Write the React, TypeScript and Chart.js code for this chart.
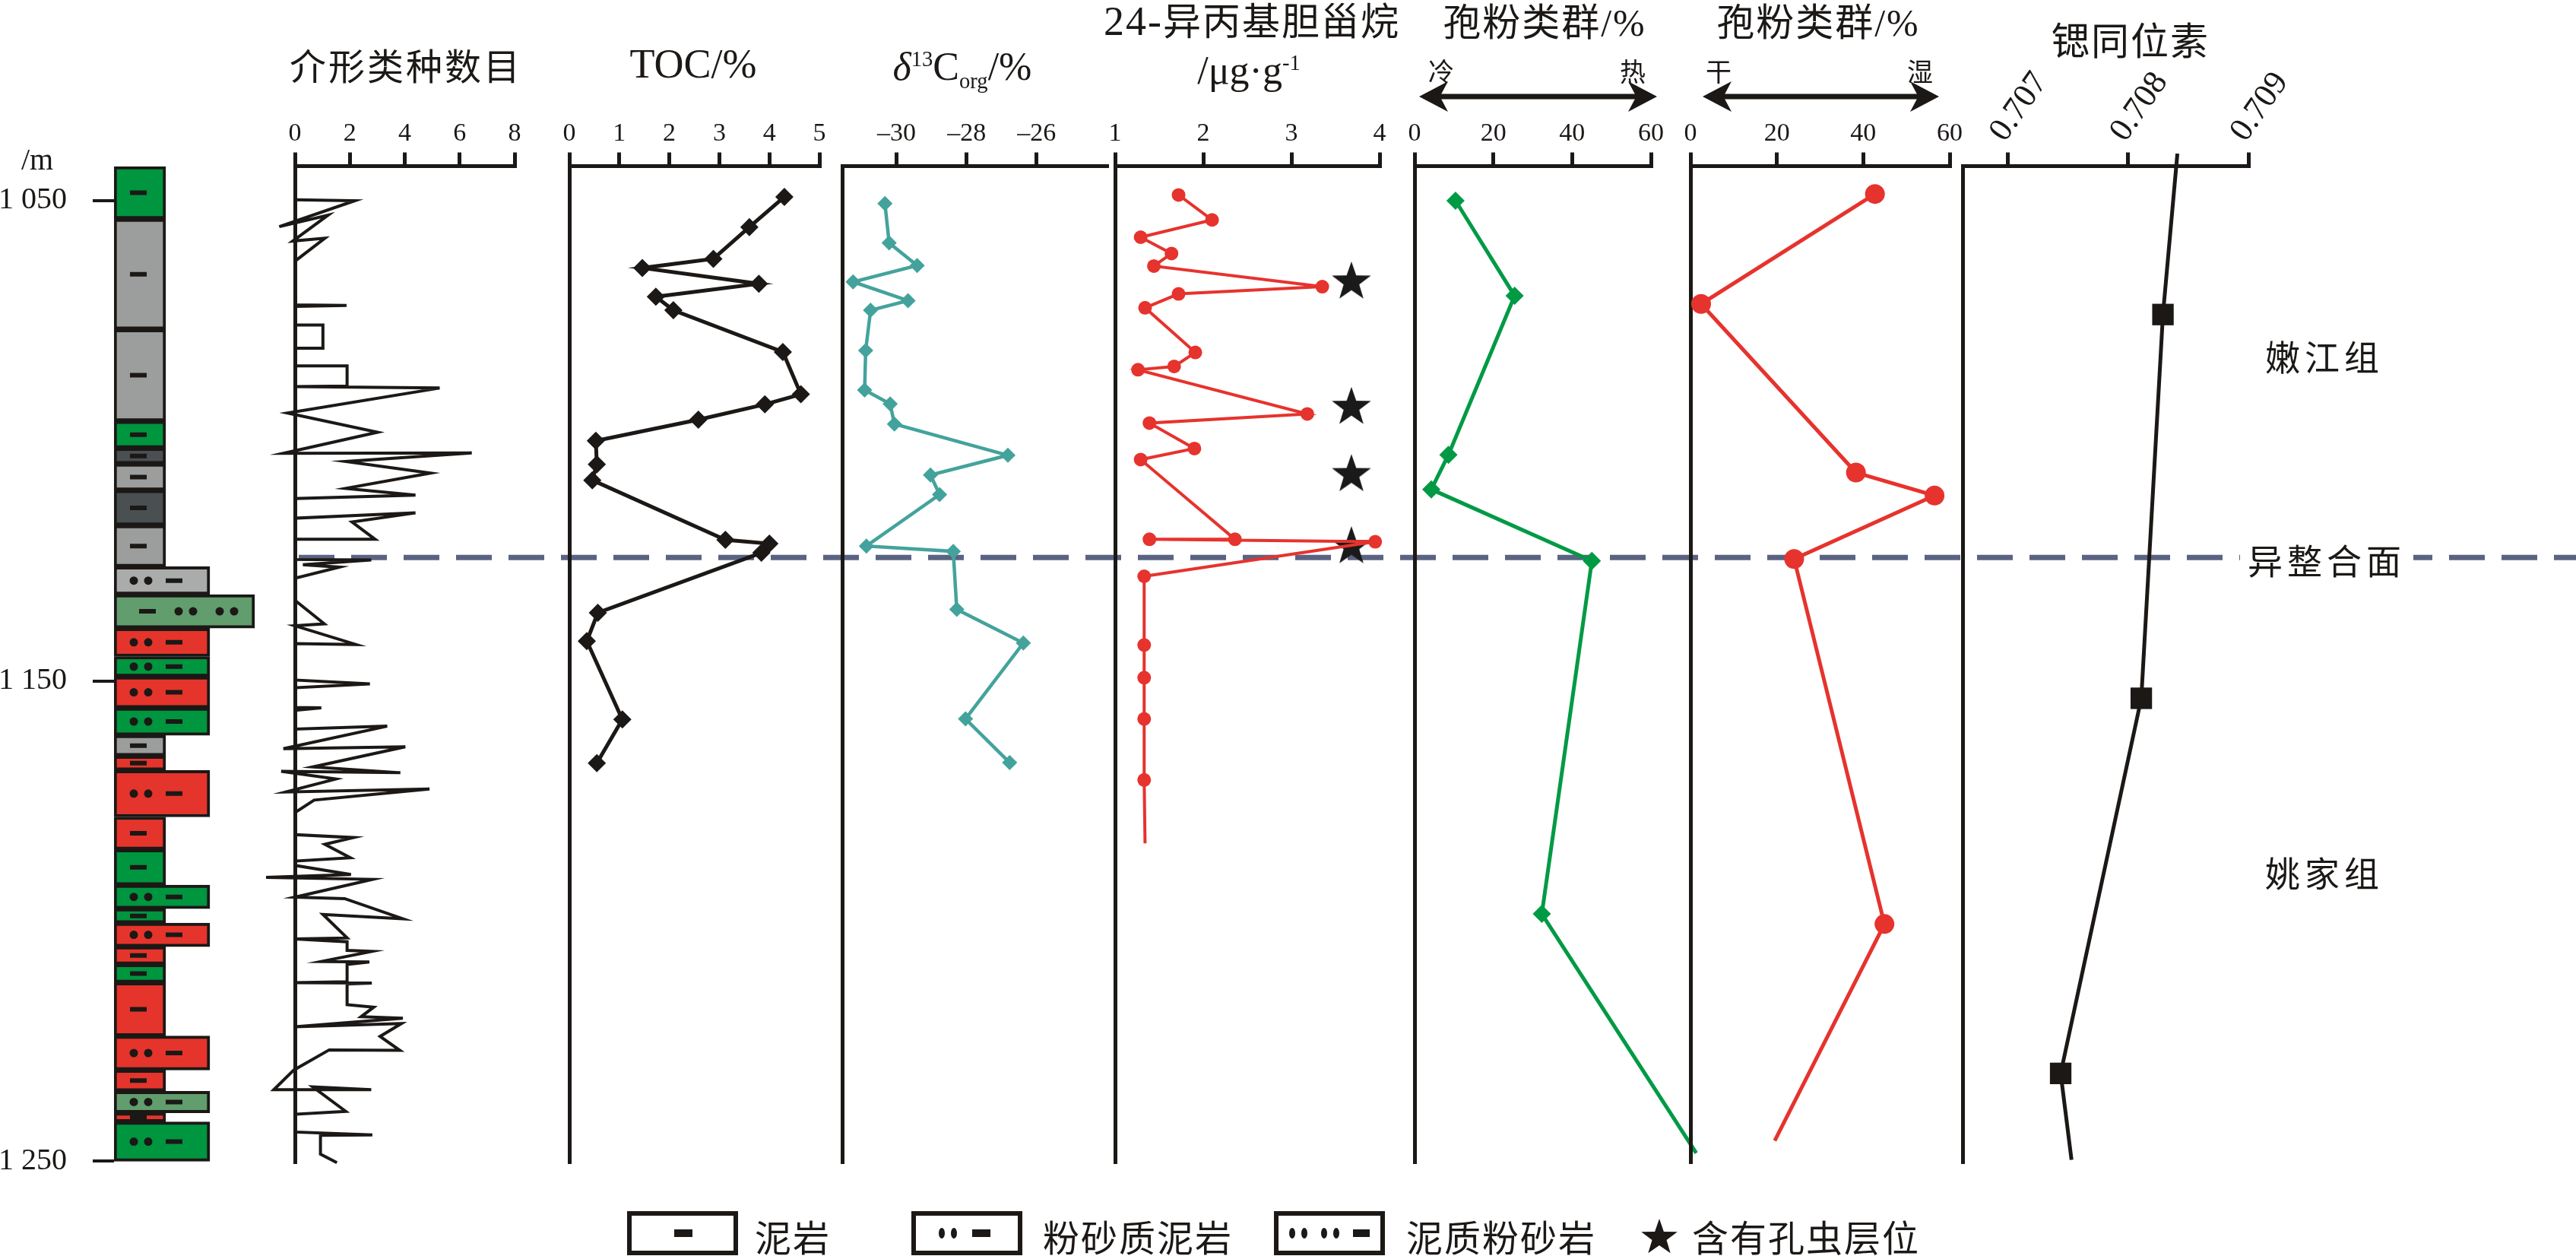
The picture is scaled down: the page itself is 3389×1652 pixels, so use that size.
import React, { useEffect, useRef } from 'react';
import { Chart, registerables } from 'chart.js';

Chart.register(...registerables);

// ================= DATA =================
const depthTicks = [1050, 1150, 1250];
const unconformityDepth = 1124.3;

// lithology column (m)
const lithTop = [1042.9, 1053.8, 1076.8, 1095.9, 1101.5, 1104.8, 1110.3, 1117.6, 1126.2, 1132.0, 1139.0, 1144.9, 1149.1, 1155.6, 1161.3, 1165.6, 1168.6, 1178.3, 1185.1, 1192.5, 1197.4, 1200.4, 1205.3, 1209.0, 1212.8, 1223.9, 1231.0, 1235.4, 1239.9, 1241.8];
const lithBottom = [1053.8, 1076.8, 1095.9, 1101.5, 1104.8, 1110.3, 1117.6, 1126.2, 1132.0, 1139.0, 1144.9, 1149.1, 1155.6, 1161.3, 1165.6, 1168.6, 1178.3, 1185.1, 1192.5, 1197.4, 1200.4, 1205.3, 1209.0, 1212.8, 1223.9, 1231.0, 1235.4, 1239.9, 1241.8, 1250.0];
// M = 泥岩, S = 粉砂质泥岩, T = 泥质粉砂岩
const lithRock = ['M', 'M', 'M', 'M', 'M', 'M', 'M', 'M', 'S', 'T', 'S', 'S', 'S', 'S', 'M', 'M', 'S', 'M', 'M', 'S', 'M', 'S', 'M', 'M', 'M', 'S', 'M', 'S', 'M', 'S'];
const lithFacies = ['green', 'gray', 'gray', 'green', 'dark', 'gray', 'dark', 'gray', 'light', 'sage', 'red', 'green', 'red', 'green', 'gray', 'red', 'red', 'red', 'green', 'green', 'green', 'red', 'red', 'green', 'red', 'red', 'red', 'sage', 'red', 'green'];

// 介形类种数目
const ostracodTicks = [0, 2, 4, 6, 8];
const ostracodCount = [0, 2.18, -0.57, 1.21, -0.08, 1.09, 0, 0, 1.88, 0, 0, 1.02, 1.02, 0, 0, 1.9, 1.9, 0, 5.27, -0.27, 3.01, -0.42, 6.44, 1.85, 4.94, 1.85, 4.39, 0, 0, 4.39, 2.08, 2.92, 0, 0, 2.78, 0.29, 1.62, 0, 0, 1.07, 0, 2.22, 0, 0, 2.73, 0, 0, 0.96, 0, 0, 3.36, -0.42, 4.02, 0.65, 3.84, -0.5, 1.49, -0.33, 4.9, 0.7, 0, 0, 2.13, 1.09, 2.02, 0, 0, 2.04, -1.05, 2.82, 0, 1.81, 3.93, 1.02, 1.9, 0, 1.9, 1.9, 2.8, 0.96, 2.71, 1.9, 1.9, 0, 2.8, 1.9, 1.9, 2.87, 2.41, 3.93, 0, 3.88, 3.1, 3.82, 1.25, -0.04, -0.77, 2.78, 0.65, 1.85, 0, 0, 2.82, 0.93, 0.93, 1.53];
const ostracodDepth = [1049.8, 1050.0, 1055.4, 1053.0, 1058.4, 1057.8, 1062.6, 1071.7, 1071.8, 1072.0, 1075.9, 1075.9, 1080.7, 1080.7, 1084.4, 1084.4, 1088.6, 1088.7, 1089.0, 1094.2, 1098.2, 1102.6, 1102.5, 1104.3, 1106.7, 1109.9, 1111.3, 1112.0, 1116.1, 1115.0, 1116.9, 1120.5, 1120.5, 1124.7, 1124.8, 1125.8, 1126.3, 1128.6, 1133.2, 1138.1, 1138.5, 1142.4, 1142.2, 1149.8, 1150.6, 1151.4, 1155.5, 1155.6, 1156.1, 1160.0, 1159.4, 1164.1, 1163.7, 1167.9, 1169.1, 1168.8, 1170.4, 1173.1, 1172.5, 1174.8, 1177.4, 1182.0, 1182.6, 1184.0, 1186.8, 1187.5, 1188.4, 1190.3, 1190.9, 1191.3, 1195.0, 1195.3, 1199.5, 1198.6, 1203.5, 1203.7, 1204.3, 1206.1, 1206.3, 1208.4, 1208.5, 1209.0, 1212.6, 1212.8, 1212.9, 1213.1, 1217.4, 1217.9, 1219.9, 1220.2, 1222.0, 1221.3, 1224.0, 1226.9, 1226.8, 1231.0, 1235.1, 1235.1, 1234.5, 1239.6, 1240.2, 1243.9, 1244.5, 1244.6, 1248.5, 1250.3];

// TOC/%
const tocTicks = [0, 1, 2, 3, 4, 5];
const tocValue = [4.3, 3.6, 2.88, 1.46, 3.79, 1.73, 2.08, 4.27, 4.63, 3.91, 2.58, 0.53, 0.55, 0.46, 3.12, 4.0, 3.84, 0.57, 0.35, 1.06, 0.55];
const tocDepth = [1049.2, 1055.5, 1062.1, 1064.0, 1067.3, 1070.0, 1072.8, 1081.5, 1090.3, 1092.4, 1095.6, 1100.0, 1104.9, 1108.2, 1120.6, 1121.4, 1123.3, 1135.8, 1141.7, 1158.0, 1167.1];

// δ13Corg/‰
const d13cTicks = [-30, -28, -26];
const d13cValue = [-30.33, -30.21, -29.41, -31.24, -29.67, -30.74, -30.88, -30.91, -30.18, -30.06, -26.82, -29.03, -28.77, -30.86, -28.38, -28.28, -26.38, -28.03, -26.77];
const d13cDepth = [1050.6, 1058.8, 1063.5, 1066.9, 1070.8, 1072.8, 1081.2, 1089.4, 1092.3, 1096.5, 1103.0, 1107.1, 1111.2, 1121.9, 1123.0, 1135.1, 1142.1, 1157.9, 1167.0];

// 24-异丙基胆甾烷 /μg·g-1
const isoTicks = [1, 2, 3, 4];
const isoValue = [1.72, 2.1, 1.29, 1.64, 1.44, 3.35, 1.72, 1.34, 1.91, 1.67, 1.26, 3.18, 1.39, 1.9, 1.29, 2.36, 1.39, 3.95, 1.33, 1.33, 1.33, 1.33, 1.33, 1.34];
const isoDepth = [1048.8, 1054.0, 1057.6, 1061.0, 1063.6, 1067.9, 1069.4, 1072.3, 1081.6, 1084.5, 1085.2, 1094.4, 1096.3, 1101.6, 1103.9, 1120.5, 1120.5, 1121.0, 1128.2, 1142.5, 1149.3, 1157.9, 1170.6, 1183.8];
// 含有孔虫层位
const foramDepth = [1066.5, 1092.6, 1106.6, 1121.6];

// 孢粉类群 冷—热 /%
const pollenTicks = [0, 20, 40, 60];
const warmValue = [10.4, 25.4, 8.6, 4.25, 45.0, 32.3, 71.5];
const warmDepth = [1050.0, 1069.8, 1102.9, 1110.1, 1125.0, 1198.5, 1248.3];
// 孢粉类群 干—湿 /%
const humidValue = [42.7, 2.46, 38.3, 56.5, 24.0, 44.9, 19.5];
const humidDepth = [1048.6, 1071.5, 1106.6, 1111.4, 1124.6, 1200.6, 1245.7];

// 锶同位素
const srTicks = [0.707, 0.708, 0.709];
const srValue = [0.70841, 0.70829, 0.70811, 0.70744, 0.70753];
const srDepth = [1040.2, 1073.7, 1153.6, 1231.7, 1249.7];

// ================= STYLE / LAYOUT =================
const PAGE_W = 3389;
const PAGE_H = 1652;
const PLOT_TOP = 218.5;
const PLOT_BOTTOM = 1530.6;
const DEPTH_MIN = 1042.8;
const DEPTH_MAX = 1250.5;
const INK = '#1b1816';
const SERIF = '"Liberation Serif", "DejaVu Serif", serif';
const CJK = '"Noto Sans CJK SC", "Noto Sans", sans-serif';
const RED = '#e6332d';
const GREEN = '#009a45';
const TEAL = '#43a39c';
const DASH_COLOR = '#5b6383';
const PAD_L = 60;
const PAD_R = 90;

const FACIES_COLOR: Record<string, string> = {
  green: '#00953f', gray: '#9c9e9d', dark: '#4a4f52', light: '#aaacab', sage: '#619d6d', red: '#e5342b',
};
const ROCK_WIDTH: Record<string, number> = { M: 68, S: 126, T: 185 };
const ROCK_DASH: Record<string, number[]> = { M: [32], S: [79], T: [44] };
const ROCK_DOTS: Record<string, number[]> = { M: [], S: [26, 45], T: [85, 104, 139, 158] };
const LITH_AXIS_W = 150;
const LITH_AREA_W = 200;

const pts = (xs: number[], ys: number[]) => xs.map((x, i) => ({ x, y: ys[i] }));

function makeStar(size: number, color: string) {
  const c = document.createElement('canvas');
  c.width = size; c.height = size;
  const g = c.getContext('2d') as CanvasRenderingContext2D;
  g.fillStyle = color;
  g.beginPath();
  for (let i = 0; i < 10; i++) {
    const r = i % 2 === 0 ? size / 2 : (size / 2) * 0.4;
    const a = -Math.PI / 2 + (i * Math.PI) / 5;
    const px = size / 2 + r * Math.cos(a);
    const py = size / 2 + r * Math.sin(a) + size * 0.05;
    if (i === 0) g.moveTo(px, py); else g.lineTo(px, py);
  }
  g.closePath();
  g.fill();
  return c;
}

const baseOptions = (padding: any) => ({
  responsive: false,
  animation: false as const,
  devicePixelRatio: 1,
  events: [] as any[],
  layout: { padding },
  plugins: { legend: { display: false }, tooltip: { enabled: false }, title: { display: false } },
});

type PanelSpec = {
  key: string; left: number; right: number; min: number; max: number; ticks: number[];
  fmt?: (v: number) => string; rotation?: number; tickSize?: number; labelOffset?: number; datasets: () => any[];
};

function panelConfig(p: PanelSpec) {
  return {
    type: 'scatter',
    data: { datasets: p.datasets() },
    options: {
      ...baseOptions({ left: PAD_L, right: PAD_R, top: 0, bottom: PAGE_H - PLOT_BOTTOM }),
      scales: {
        x: {
          type: 'linear', position: 'top', min: p.min, max: p.max, offset: false,
          afterBuildTicks: (ax: any) => { ax.ticks = p.ticks.map((v) => ({ value: v })); },
          afterFit: (ax: any) => { ax.height = PLOT_TOP; ax.paddingLeft = 0; ax.paddingRight = 0; },
          ticks: {
            autoSkip: false, minRotation: p.rotation ?? 0, maxRotation: p.rotation ?? 0, padding: 4, color: INK,
            labelOffset: p.labelOffset ?? 0,
            font: { family: SERIF, size: p.tickSize ?? 34 },
            callback: (v: any) => (p.fmt ? p.fmt(Number(v)) : String(v)),
          },
          grid: { display: true, drawOnChartArea: false, drawTicks: true, tickLength: 18, lineWidth: 5, color: INK },
          border: { display: true, width: 5, color: INK },
        },
        y: {
          type: 'linear', position: 'left', reverse: true, min: DEPTH_MIN, max: DEPTH_MAX,
          afterFit: (ax: any) => { ax.width = 0; },
          ticks: { display: false },
          grid: { display: false },
          border: { display: true, width: 5, color: INK },
        },
      },
    },
  };
}

const lineDs = (xs: number[], ys: number[], color: string, width: number, extra: any = {}) => ({
  data: pts(xs, ys), showLine: true, borderColor: color, borderWidth: width, tension: 0,
  pointBackgroundColor: color, pointBorderColor: color, pointBorderWidth: 0, clip: false, ...extra,
});

const PANELS: PanelSpec[] = [
  {
    key: 'ost', left: 388, right: 677, min: 0, max: 8, ticks: ostracodTicks,
    datasets: () => [lineDs(ostracodCount, ostracodDepth, INK, 4, { pointRadius: 0, borderJoinStyle: 'miter' })],
  },
  {
    key: 'toc', left: 749, right: 1078, min: 0, max: 5, ticks: tocTicks,
    datasets: () => [lineDs(tocValue, tocDepth, INK, 5, { pointStyle: 'rectRot', pointRadius: 12 })],
  },
  {
    key: 'd13c', left: 1108, right: 1456, min: -31.55, max: -24, ticks: d13cTicks,
    fmt: (v) => '–' + Math.abs(v),
    datasets: () => [lineDs(d13cValue, d13cDepth, TEAL, 4.5, { pointStyle: 'rectRot', pointRadius: 10 })],
  },
  {
    key: 'iso', left: 1467, right: 1815, min: 1, max: 4, ticks: isoTicks,
    datasets: () => {
      const star = makeStar(54, '#1a1a1a');
      return [
        lineDs(isoValue, isoDepth, RED, 4, { pointStyle: 'circle', pointRadius: isoValue.map((_, i) => (i === isoValue.length - 1 ? 0 : 9)) }),
        { data: foramDepth.map((d) => ({ x: 3.68, y: d })), showLine: false, pointStyle: star, pointRadius: 27, clip: false },
      ];
    },
  },
  {
    key: 'p1', left: 1861, right: 2172, min: 0, max: 60, ticks: pollenTicks,
    datasets: () => [lineDs(warmValue, warmDepth, GREEN, 5, { pointStyle: 'rectRot', pointRadius: warmValue.map((_, i) => (i === warmValue.length - 1 ? 0 : 12)) })],
  },
  {
    key: 'p2', left: 2224, right: 2565, min: 0, max: 60, ticks: pollenTicks,
    datasets: () => [lineDs(humidValue, humidDepth, RED, 5, { pointStyle: 'circle', pointRadius: humidValue.map((_, i) => (i === humidValue.length - 1 ? 0 : 13)) })],
  },
  {
    key: 'sr', left: 2582, right: 2958, min: 0.706625, max: 0.709, ticks: srTicks,
    fmt: (v) => v.toFixed(3), rotation: 55, tickSize: 44, labelOffset: 30,
    datasets: () => [lineDs(srValue, srDepth, INK, 5, { pointStyle: 'rect', pointRadius: srValue.map((_, i) => (i === 0 || i === srValue.length - 1 ? 0 : 20)) })],
  },
];

function lithConfig() {
  const bars = ['M', 'S', 'T'].map((rock) => {
    const idx = lithRock.map((r, i) => (r === rock ? i : -1)).filter((i) => i >= 0);
    return {
      type: 'bar',
      data: idx.map((i) => ({ x: ROCK_WIDTH[rock] / 2, y: [lithTop[i], lithBottom[i]] })),
      backgroundColor: idx.map((i) => FACIES_COLOR[lithFacies[i]]),
      borderColor: INK, borderWidth: 4, borderSkipped: false,
      barThickness: ROCK_WIDTH[rock], grouped: false, order: 2,
    };
  });
  const dashes: any[] = [];
  const dots: any[] = [];
  lithRock.forEach((r, i) => {
    const mid = (lithTop[i] + lithBottom[i]) / 2;
    ROCK_DASH[r].forEach((x) => dashes.push({ x, y: mid }));
    ROCK_DOTS[r].forEach((x) => dots.push({ x, y: mid }));
  });
  return {
    type: 'bar',
    data: {
      datasets: [
        ...bars,
        { type: 'scatter', data: dashes, pointStyle: 'line', pointRadius: 11, pointBorderWidth: 6, pointBorderColor: INK, order: 1 },
        { type: 'scatter', data: dots, pointStyle: 'circle', pointRadius: 5.5, pointBackgroundColor: INK, pointBorderWidth: 0, order: 1 },
      ],
    },
    options: {
      ...baseOptions({ left: 0, right: 30, top: PLOT_TOP, bottom: PAGE_H - PLOT_BOTTOM }),
      scales: {
        x: { type: 'linear', display: false, min: 0, max: LITH_AREA_W, offset: false, grid: { offset: false } },
        y: {
          type: 'linear', position: 'left', reverse: true, min: DEPTH_MIN, max: DEPTH_MAX,
          afterFit: (ax: any) => { ax.width = LITH_AXIS_W; },
          afterBuildTicks: (ax: any) => { ax.ticks = depthTicks.map((v) => ({ value: v })); },
          ticks: {
            autoSkip: false, color: INK, padding: 34, font: { family: SERIF, size: 40 },
            callback: (v: any) => String(v).replace(/^(\d)(\d{3})$/, '$1 $2'),
          },
          grid: { display: true, drawOnChartArea: false, drawTicks: true, tickLength: 28, lineWidth: 4, color: INK },
          border: { display: false },
        },
      },
    },
  };
}

function overlayConfig() {
  return {
    type: 'scatter',
    data: {
      datasets: [{
        data: [{ x: 0, y: unconformityDepth }, { x: 1, y: unconformityDepth }],
        showLine: true, borderColor: DASH_COLOR, borderWidth: 7, borderDash: [47, 22], pointRadius: 0,
      }],
    },
    options: {
      ...baseOptions({ left: 393, right: 0, top: PLOT_TOP, bottom: PAGE_H - PLOT_BOTTOM }),
      scales: {
        x: { type: 'linear', display: false, min: 0, max: 1 },
        y: { type: 'linear', display: false, reverse: true, min: DEPTH_MIN, max: DEPTH_MAX },
      },
    },
  };
}

function ChartCanvas({ left, width, make }: { left: number; width: number; make: () => any }) {
  const ref = useRef<HTMLCanvasElement | null>(null);
  useEffect(() => {
    const chart = new Chart(ref.current as HTMLCanvasElement, make());
    return () => chart.destroy();
  }, []);
  return (
    <canvas ref={ref} width={width} height={PAGE_H}
      style={{ position: 'absolute', left, top: 0, width, height: PAGE_H }} />
  );
}

function Txt({ x, y, size, family = CJK, anchor = 'center', style = {}, children }: any) {
  const tx = anchor === 'center' ? '-50%' : anchor === 'right' ? '-100%' : '0';
  return (
    <div style={{
      position: 'absolute', left: x, top: y, transform: `translate(${tx}, -50%)`, fontSize: size,
      fontFamily: family, lineHeight: 1, whiteSpace: 'nowrap', color: INK, ...style,
    }}>{children}</div>
  );
}

function Arrow({ x1, x2, y }: { x1: number; x2: number; y: number }) {
  const w = x2 - x1; const h = 20; const L = 38;
  return (
    <svg width={w} height={2 * h} style={{ position: 'absolute', left: x1, top: y - h, overflow: 'visible' }}>
      <line x1={L * 0.7} y1={h} x2={w - L * 0.7} y2={h} stroke={INK} strokeWidth={7} />
      <polygon points={`0,${h} ${L},0 ${L * 0.72},${h} ${L},${2 * h}`} fill={INK} />
      <polygon points={`${w},${h} ${w - L},0 ${w - L * 0.72},${h} ${w - L},${2 * h}`} fill={INK} />
    </svg>
  );
}

function starPoints(cx: number, cy: number, R: number, r: number) {
  const out: string[] = [];
  for (let i = 0; i < 10; i++) {
    const rad = i % 2 === 0 ? R : r;
    const a = -Math.PI / 2 + (i * Math.PI) / 5;
    out.push(`${(cx + rad * Math.cos(a)).toFixed(1)},${(cy + rad * Math.sin(a)).toFixed(1)}`);
  }
  return out.join(' ');
}

function LegendBox({ x, kind }: { x: number; kind: string }) {
  const W = 146; const H = 58;
  const dots = kind === 'S' ? [40, 56] : kind === 'T' ? [24, 40, 66, 82] : [];
  const dash = kind === 'M' ? [62, 86] : kind === 'S' ? [80, 104] : [104, 126];
  return (
    <svg width={W} height={H} style={{ position: 'absolute', left: x, top: 1593 }}>
      <rect x={3} y={3} width={W - 6} height={H - 6} fill="#fff" stroke={INK} strokeWidth={6} />
      {dots.map((d) => <ellipse key={d} cx={d} cy={H / 2} rx={4} ry={7} fill={INK} />)}
      <rect x={dash[0]} y={H / 2 - 5} width={dash[1] - dash[0]} height={10} fill={INK} />
    </svg>
  );
}

export default function App() {
  return (
    <div style={{ position: 'absolute', left: 0, top: 0, width: PAGE_W, height: PAGE_H, background: '#fff', overflow: 'hidden' }}>
      <ChartCanvas left={0} width={PAGE_W} make={overlayConfig} />
      <ChartCanvas left={0} width={LITH_AXIS_W + LITH_AREA_W + 30} make={lithConfig} />
      {PANELS.map((p) => (
        <ChartCanvas key={p.key} left={p.left - PAD_L} width={p.right - p.left + PAD_L + PAD_R} make={() => panelConfig(p)} />
      ))}

      {/* headers */}
      <Txt x={28} y={210} size={40} family={SERIF} anchor="left">/m</Txt>
      <Txt x={534} y={84} size={48} style={{ letterSpacing: 3 }}>介形类种数目</Txt>
      <Txt x={912} y={84} size={54} family={SERIF}>TOC/%</Txt>
      <Txt x={1266} y={92} size={52} family={SERIF}>
        <span style={{ fontStyle: 'italic' }}>δ</span>
        <sup style={{ fontSize: '0.55em' }}>13</sup>C<sub style={{ fontSize: '0.55em' }}>org</sub>/%
      </Txt>
      <Txt x={1647} y={27} size={50} style={{ letterSpacing: 2 }}>
        <span style={{ fontFamily: SERIF, fontSize: 54 }}>24-</span>异丙基胆甾烷
      </Txt>
      <Txt x={1643} y={93} size={52} family={SERIF}>/μg·g<sup style={{ fontSize: '0.55em' }}>-1</sup></Txt>
      <Txt x={2032} y={27} size={50} style={{ letterSpacing: 2 }}>孢粉类群<span style={{ fontFamily: SERIF }}>/%</span></Txt>
      <Txt x={2392} y={27} size={50} style={{ letterSpacing: 2 }}>孢粉类群<span style={{ fontFamily: SERIF }}>/%</span></Txt>
      <Txt x={1896} y={93} size={34}>冷</Txt>
      <Txt x={2148} y={93} size={34}>热</Txt>
      <Txt x={2261} y={93} size={34}>干</Txt>
      <Txt x={2526} y={93} size={34}>湿</Txt>
      <Arrow x1={1867} x2={2180} y={127} />
      <Arrow x1={2240} x2={2551} y={127} />
      <Txt x={2803} y={50} size={50} style={{ letterSpacing: 2 }}>锶同位素</Txt>

      {/* formation labels */}
      <Txt x={3058} y={467} size={46} style={{ letterSpacing: 6 }}>嫩江组</Txt>
      <Txt x={3061} y={735} size={46} style={{ letterSpacing: 6, background: '#fff', padding: '2px 10px' }}>异整合面</Txt>
      <Txt x={3058} y={1146} size={46} style={{ letterSpacing: 6 }}>姚家组</Txt>

      {/* legend */}
      <LegendBox x={825} kind="M" />
      <Txt x={993} y={1625} size={48} anchor="left" style={{ letterSpacing: 2 }}>泥岩</Txt>
      <LegendBox x={1199} kind="S" />
      <Txt x={1372} y={1625} size={48} anchor="left" style={{ letterSpacing: 2 }}>粉砂质泥岩</Txt>
      <LegendBox x={1676} kind="T" />
      <Txt x={1850} y={1625} size={48} anchor="left" style={{ letterSpacing: 2 }}>泥质粉砂岩</Txt>
      <svg width={50} height={50} style={{ position: 'absolute', left: 2158, top: 1601 }}>
        <polygon points={starPoints(25, 27, 25, 10)} fill={INK} />
      </svg>
      <Txt x={2226} y={1625} size={48} anchor="left" style={{ letterSpacing: 2 }}>含有孔虫层位</Txt>
    </div>
  );
}
